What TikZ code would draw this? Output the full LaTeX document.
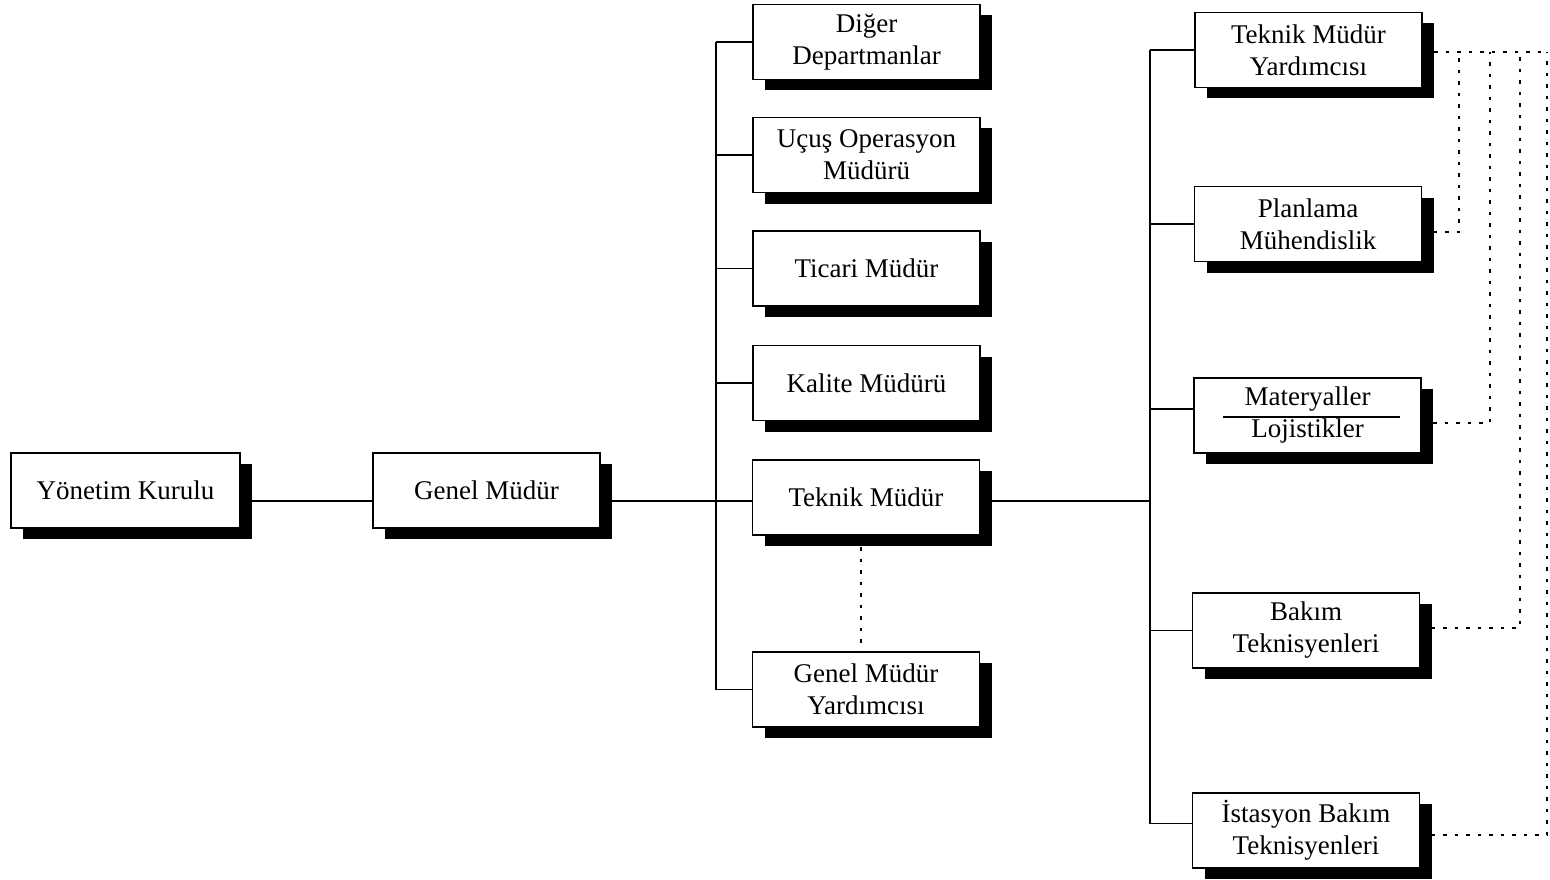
\documentclass[tikz,border=0pt]{standalone}
\usepackage{fontspec}
\setmainfont{Liberation Serif}
\usetikzlibrary{shadows,backgrounds,calc}

\tikzset{
  orgbox/.style={draw=black, line width=1.4pt, fill=white,
    minimum width=227pt, minimum height=75pt, inner sep=0pt,
    align=center, font=\fontsize{27}{32}\selectfont,
    drop shadow={shadow xshift=12pt, shadow yshift=-11pt, fill=black, opacity=1}},
  conn/.style={draw=black, line width=1.5pt},
  dotconn/.style={draw=black, line width=2.2pt, dash pattern=on 3.5pt off 8pt}
}

\begin{document}
\begin{tikzpicture}[x=1pt,y=-1pt]
\useasboundingbox (0,0) rectangle (1550,880);

% management chain
\node[orgbox, minimum width=229pt] (yk) at (125.5,490.5) {Yönetim Kurulu};
\node[orgbox] (gm) at (486.5,490.5) {Genel Müdür};

% departments under the general manager
\node[orgbox] (dig)  at (866.5,42)    {Diğer\\Departmanlar};
\node[orgbox] (ucus) at (866.5,155)   {Uçuş Operasyon\\Müdürü};
\node[orgbox] (tic)  at (866.5,268.5) {Ticari Müdür};
\node[orgbox] (kal)  at (866.5,383)   {Kalite Müdürü};
\node[orgbox] (tm)   at (866,497.5)   {Teknik Müdür};
\node[orgbox] (gmy)  at (866,689.5)   {Genel Müdür\\Yardımcısı};

% technical department
\node[orgbox] (tmy)  at (1308.5,50)   {Teknik Müdür\\Yardımcısı};
\node[orgbox] (plan) at (1308,224)    {Planlama\\Mühendislik};
\node[orgbox] (mat)  at (1307.5,415.5){Materyaller\\Lojistikler};
\node[orgbox] (bak)  at (1306,630.5)  {Bakım\\Teknisyenleri};
\node[orgbox] (ist)  at (1306,830.5)  {İstasyon Bakım\\Teknisyenleri};

% rule between the two words of the materials box
\draw[line width=1.3pt] ([xshift=-84.5pt,yshift=-1.5pt]mat.center) -- ([xshift=92.5pt,yshift=-1.5pt]mat.center);

\coordinate (spine)  at (716,501);
\coordinate (rspine) at (1150,501);
\coordinate (d1) at (1459,52);
\coordinate (d2) at (1490,52);
\coordinate (d3) at (1520,52);
\coordinate (d4) at (1547,52);

\begin{pgfonlayer}{background}
  % solid reporting lines
  \draw[conn] (yk.east |- spine) -- (gm.west |- spine);
  \draw[conn] (gm.east |- spine) -- (spine);
  \draw[conn] (dig.west -| spine) -- (gmy.west -| spine);
  \foreach \n in {dig,ucus,tic,kal,gmy}
    \draw[conn] (\n.west) -- (\n.west -| spine);
  \draw[conn] (tm.west |- spine) -- (spine);
  \draw[conn] (tm.east |- spine) -- (rspine);
  \draw[conn] (tmy.west -| rspine) -- ([yshift=7pt]ist.west -| rspine);
  \foreach \n in {tmy,plan,bak}
    \draw[conn] (\n.west) -- (\n.west -| rspine);
  \draw[conn] ([yshift=6.5pt]mat.west) -- ([yshift=6.5pt]mat.west -| rspine);
  \draw[conn] ([yshift=7pt]ist.west) -- ([yshift=7pt]ist.west -| rspine);

  % dotted coordination lines
  \draw[dotconn] ([xshift=-5pt]tm.south) -- ([xshift=-5pt]gmy.north);
  \draw[dotconn] ([yshift=-2pt]tmy.east) -- (d4);
  \draw[dotconn] ([yshift=-8pt]plan.east) -| (d1);
  \draw[dotconn] ([yshift=-7.5pt]mat.east) -| (d2);
  \draw[dotconn] ([yshift=2.5pt]bak.east) -| (d3);
  \draw[dotconn] ([yshift=-4.5pt]ist.east) -| (d4);
\end{pgfonlayer}
\end{tikzpicture}
\end{document}
